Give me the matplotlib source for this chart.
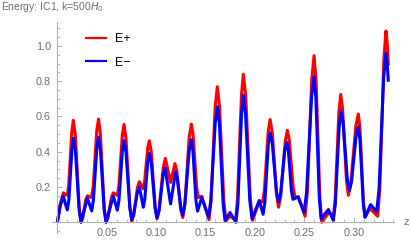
import numpy as np
import matplotlib
matplotlib.use('Agg')
import matplotlib.pyplot as plt
from matplotlib.ticker import MultipleLocator, FixedLocator

# values
z_minus = [0.0000, 0.0030, 0.0061, 0.0081, 0.0101, 0.0117, 0.0133, 0.0148, 0.0164, 0.0183, 0.0202, 0.0221,
           0.0240, 0.0272, 0.0304, 0.0326, 0.0348, 0.0365, 0.0383, 0.0400, 0.0417, 0.0436, 0.0455, 0.0474,
           0.0493, 0.0530, 0.0567, 0.0587, 0.0607, 0.0624, 0.0641, 0.0658, 0.0675, 0.0695, 0.0714, 0.0734,
           0.0753, 0.0772, 0.0792, 0.0811, 0.0830, 0.0850, 0.0870, 0.0885, 0.0901, 0.0916, 0.0931, 0.0951,
           0.0970, 0.0990, 0.1009, 0.1029, 0.1050, 0.1070, 0.1090, 0.1118, 0.1146, 0.1171, 0.1196, 0.1214,
           0.1233, 0.1251, 0.1269, 0.1291, 0.1313, 0.1334, 0.1356, 0.1372, 0.1388, 0.1403, 0.1419, 0.1440,
           0.1461, 0.1496, 0.1530, 0.1553, 0.1576, 0.1598, 0.1621, 0.1640, 0.1659, 0.1678, 0.1697, 0.1722,
           0.1748, 0.1778, 0.1808, 0.1827, 0.1845, 0.1864, 0.1882, 0.1904, 0.1926, 0.1948, 0.1970, 0.2007,
           0.2044, 0.2063, 0.2082, 0.2100, 0.2118, 0.2135, 0.2153, 0.2175, 0.2196, 0.2218, 0.2239, 0.2260,
           0.2281, 0.2301, 0.2322, 0.2338, 0.2354, 0.2369, 0.2385, 0.2410, 0.2436, 0.2467, 0.2497, 0.2522,
           0.2548, 0.2573, 0.2598, 0.2616, 0.2634, 0.2651, 0.2669, 0.2706, 0.2743, 0.2768, 0.2793, 0.2813,
           0.2832, 0.2852, 0.2871, 0.2892, 0.2913, 0.2934, 0.2955, 0.2978, 0.3001, 0.3023, 0.3046, 0.3063,
           0.3080, 0.3097, 0.3114, 0.3142, 0.3170, 0.3201, 0.3232, 0.3256, 0.3279, 0.3303, 0.3326, 0.3338,
           0.3350]
e_minus = [0.000, 0.095, 0.148, 0.105, 0.070, 0.129, 0.273, 0.416, 0.475, 0.406, 0.238, 0.069,
           0.000, 0.068, 0.137, 0.100, 0.064, 0.125, 0.274, 0.422, 0.483, 0.412, 0.242, 0.071,
           0.000, 0.074, 0.148, 0.108, 0.068, 0.126, 0.265, 0.404, 0.462, 0.397, 0.239, 0.080,
           0.015, 0.042, 0.108, 0.173, 0.200, 0.142, 0.085, 0.130, 0.238, 0.345, 0.390, 0.337,
           0.208, 0.078, 0.025, 0.066, 0.167, 0.267, 0.308, 0.206, 0.104, 0.194, 0.284, 0.248,
           0.162, 0.076, 0.040, 0.103, 0.254, 0.405, 0.468, 0.409, 0.266, 0.122, 0.063, 0.100,
           0.140, 0.085, 0.030, 0.121, 0.343, 0.564, 0.655, 0.561, 0.333, 0.104, 0.010, 0.032,
           0.055, 0.028, 0.000, 0.105, 0.360, 0.615, 0.720, 0.618, 0.370, 0.122, 0.020, 0.072,
           0.123, 0.084, 0.045, 0.112, 0.276, 0.440, 0.507, 0.450, 0.311, 0.172, 0.115, 0.164,
           0.284, 0.404, 0.453, 0.406, 0.292, 0.177, 0.130, 0.137, 0.144, 0.100, 0.056, 0.168,
           0.441, 0.714, 0.826, 0.708, 0.423, 0.138, 0.020, 0.046, 0.072, 0.042, 0.011, 0.102,
           0.322, 0.541, 0.632, 0.566, 0.406, 0.246, 0.180, 0.233, 0.360, 0.487, 0.540, 0.465,
           0.284, 0.103, 0.028, 0.064, 0.100, 0.080, 0.060, 0.191, 0.509, 0.827, 0.958, 0.900,
           0.797]

z_plus = [0.0000, 0.0030, 0.0061, 0.0081, 0.0101, 0.0116, 0.0132, 0.0147, 0.0162, 0.0182, 0.0201, 0.0221,
          0.0240, 0.0256, 0.0272, 0.0288, 0.0304, 0.0325, 0.0346, 0.0364, 0.0382, 0.0399, 0.0417, 0.0436,
          0.0455, 0.0474, 0.0493, 0.0512, 0.0530, 0.0549, 0.0567, 0.0587, 0.0607, 0.0624, 0.0641, 0.0658,
          0.0675, 0.0695, 0.0714, 0.0734, 0.0753, 0.0772, 0.0792, 0.0811, 0.0830, 0.0849, 0.0867, 0.0883,
          0.0899, 0.0915, 0.0931, 0.0951, 0.0970, 0.0990, 0.1009, 0.1030, 0.1051, 0.1072, 0.1093, 0.1120,
          0.1146, 0.1168, 0.1190, 0.1210, 0.1230, 0.1249, 0.1269, 0.1291, 0.1313, 0.1334, 0.1356, 0.1374,
          0.1392, 0.1409, 0.1427, 0.1444, 0.1461, 0.1498, 0.1535, 0.1556, 0.1577, 0.1598, 0.1619, 0.1641,
          0.1663, 0.1685, 0.1707, 0.1726, 0.1745, 0.1775, 0.1804, 0.1824, 0.1843, 0.1863, 0.1882, 0.1906,
          0.1929, 0.1953, 0.1976, 0.2010, 0.2044, 0.2061, 0.2077, 0.2096, 0.2115, 0.2134, 0.2153, 0.2175,
          0.2196, 0.2218, 0.2239, 0.2261, 0.2284, 0.2306, 0.2328, 0.2348, 0.2367, 0.2387, 0.2406, 0.2423,
          0.2439, 0.2473, 0.2507, 0.2530, 0.2553, 0.2575, 0.2598, 0.2618, 0.2637, 0.2657, 0.2676, 0.2713,
          0.2750, 0.2772, 0.2793, 0.2812, 0.2831, 0.2849, 0.2868, 0.2887, 0.2907, 0.2926, 0.2945, 0.2970,
          0.2996, 0.3021, 0.3046, 0.3063, 0.3080, 0.3097, 0.3114, 0.3139, 0.3164, 0.3203, 0.3242, 0.3263,
          0.3284, 0.3305, 0.3326, 0.3338, 0.3350]
e_plus = [0.000, 0.105, 0.167, 0.158, 0.153, 0.215, 0.366, 0.516, 0.578, 0.494, 0.289, 0.084,
          0.000, 0.022, 0.075, 0.128, 0.150, 0.145, 0.140, 0.205, 0.363, 0.520, 0.585, 0.500,
          0.293, 0.085, 0.000, 0.024, 0.084, 0.143, 0.167, 0.160, 0.153, 0.212, 0.354, 0.496,
          0.555, 0.475, 0.280, 0.085, 0.005, 0.038, 0.118, 0.197, 0.230, 0.210, 0.190, 0.230,
          0.326, 0.422, 0.462, 0.397, 0.241, 0.085, 0.020, 0.070, 0.191, 0.312, 0.362, 0.294,
          0.226, 0.280, 0.333, 0.288, 0.180, 0.072, 0.027, 0.104, 0.292, 0.480, 0.557, 0.496,
          0.349, 0.201, 0.140, 0.144, 0.148, 0.082, 0.015, 0.125, 0.392, 0.659, 0.769, 0.658,
          0.389, 0.119, 0.008, 0.021, 0.034, 0.024, 0.013, 0.134, 0.427, 0.719, 0.840, 0.719,
          0.426, 0.132, 0.011, 0.066, 0.121, 0.118, 0.115, 0.183, 0.349, 0.515, 0.583, 0.510,
          0.334, 0.158, 0.085, 0.149, 0.303, 0.457, 0.521, 0.465, 0.330, 0.196, 0.140, 0.143,
          0.145, 0.090, 0.034, 0.167, 0.490, 0.812, 0.945, 0.807, 0.473, 0.138, 0.000, 0.029,
          0.058, 0.044, 0.030, 0.131, 0.378, 0.624, 0.725, 0.641, 0.439, 0.237, 0.153, 0.220,
          0.384, 0.547, 0.614, 0.529, 0.322, 0.115, 0.030, 0.054, 0.078, 0.056, 0.034, 0.187,
          0.560, 0.932, 1.085, 1.020, 0.890]

x_major = [0.05, 0.10, 0.15, 0.20, 0.25, 0.30]
x_labels = ['0.05', '0.10', '0.15', '0.20', '0.25', '0.30']
y_major = [0.2, 0.4, 0.6, 0.8, 1.0]
y_labels = ['0.2', '0.4', '0.6', '0.8', '1.0']

plt.rcParams['font.family'] = ['Liberation Sans', 'DejaVu Sans']
gray = '#6e6e6e'
axcol = '#b0b0b0'

fig = plt.figure(figsize=(4.11, 2.43), dpi=100)
ax = fig.add_axes([51.7/411, 10/243, (394-51.7)/411, (233-22)/243])

ax.plot(z_plus, e_plus, color='#ff0000', lw=2.2, label='E+', solid_capstyle='butt')
ax.plot(z_minus, e_minus, color='#0000ff', lw=2.2, label='E\u2212', solid_capstyle='butt')

ax.set_xlim(-0.0057, 0.3407)
ax.set_ylim(-0.061, 1.136)

for s in ['top', 'right']:
    ax.spines[s].set_visible(False)
ax.spines['left'].set_position(('data', 0.0))
ax.spines['bottom'].set_position(('data', 0.0))
ax.spines['left'].set_color(axcol)
ax.spines['bottom'].set_color(axcol)
ax.spines['left'].set_linewidth(0.8)
ax.spines['bottom'].set_linewidth(0.8)

ax.xaxis.set_major_locator(FixedLocator(x_major))
ax.set_xticklabels(x_labels)
ax.xaxis.set_minor_locator(MultipleLocator(0.01))
ax.yaxis.set_major_locator(FixedLocator(y_major))
ax.set_yticklabels(y_labels)
ax.yaxis.set_minor_locator(MultipleLocator(0.05))
ax.tick_params(which='major', direction='in', length=3.5, width=0.7, color=axcol,
               labelsize=7.8, labelcolor=gray, pad=4.5)
ax.tick_params(which='minor', direction='in', length=2, width=0.6, color=axcol)

fig.text(1/411, 1 - 10.5/243, 'Energy: IC1, k=500$H_0$', fontsize=7.5, color=gray,
         ha='left', va='baseline')
fig.text(406/411, 1 - 222/243, 'z', fontsize=8, color=gray, ha='center', va='center')

leg = ax.legend(loc='upper left', bbox_to_anchor=(85/411, 1 - 33/243),
                bbox_transform=fig.transFigure, frameon=False, fontsize=9,
                handlelength=1.75, handletextpad=0.65, labelspacing=0.95,
                borderpad=0, borderaxespad=0)
for line in leg.get_lines():
    line.set_linewidth(1.6)

fig.savefig('out.png', dpi=100)
